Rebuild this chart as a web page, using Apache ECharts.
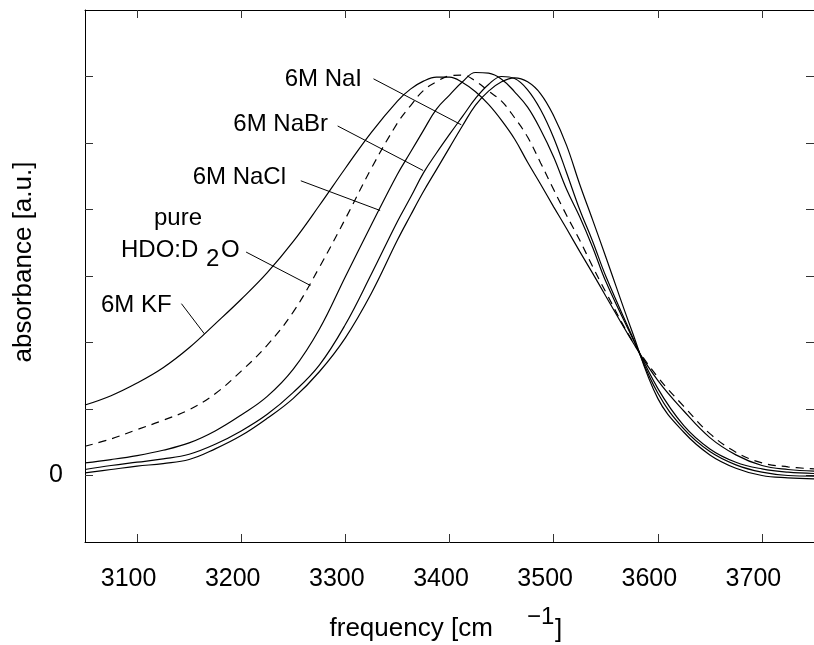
<!DOCTYPE html>
<html>
<head>
<meta charset="utf-8">
<script src="https://cdn.jsdelivr.net/npm/echarts@6/dist/echarts.min.js"></script>
<style>
html,body{margin:0;padding:0;background:#fff;}
#c{width:814px;height:645px;}
</style>
</head>
<body>
<div id="c"></div>
<script>
// ---- data ----
const freq = [3050,3075,3100,3125,3150,3175,3200,3225,3250,3275,3300,3325,3350,
              3362.5,3375,3387.5,3400,3412.5,3425,3437.5,3450,3462.5,3475,3487.5,3500,3512.5,3525,3537.5,
              3550,3575,3600,3625,3650,3675,3700,3725,3750];
const kf   = [1.06,1.20,1.39,1.62,1.92,2.28,2.65,3.05,3.52,4.06,4.62,5.16,5.63,
              5.81,5.93,5.99,5.99,5.91,5.77,5.58,5.34,5.06,4.71,4.38,4.04,3.71,3.37,3.04,
              2.70,2.03,1.43,0.97,0.57,0.31,0.15,0.09,0.065];
const pure = [0.44,0.55,0.69,0.83,0.99,1.23,1.57,1.96,2.46,3.13,3.86,4.62,5.30,
              5.56,5.79,5.92,6.01,6.02,5.93,5.78,5.63,5.38,5.09,4.70,4.30,3.91,3.54,3.14,
              2.76,2.04,1.48,1.04,0.63,0.35,0.19,0.13,0.10];
const nacl = [0.19,0.24,0.30,0.38,0.49,0.67,0.91,1.19,1.60,2.20,2.99,3.77,4.53,
              4.86,5.19,5.51,5.72,5.92,6.06,6.05,5.96,5.77,5.54,5.20,4.79,4.30,3.89,3.43,
              2.92,2.09,1.31,0.75,0.40,0.20,0.10,0.05,0.03];
const nabr = [0.09,0.15,0.20,0.25,0.32,0.47,0.67,0.92,1.25,1.66,2.27,3.03,3.82,
              4.18,4.55,4.85,5.13,5.40,5.67,5.88,6.00,5.97,5.80,5.50,5.08,4.55,4.00,3.52,
              3.00,2.11,1.24,0.70,0.36,0.16,0.05,0.00,-0.01];
const nai  = [0.04,0.09,0.14,0.18,0.24,0.40,0.60,0.86,1.16,1.56,2.07,2.74,3.54,
              3.91,4.27,4.60,4.93,5.26,5.57,5.78,5.92,5.98,5.92,5.74,5.41,4.96,4.38,3.84,
              3.29,2.18,1.16,0.65,0.31,0.11,0.00,-0.035,-0.05];

// leader lines (data coordinates: label end -> curve)
const leadKF   = [[3142.6,2.584],[3164.6,2.131]];
const leadPure = [[3204.7,3.36],[3266.5,2.857]];
const leadNaCl = [[3257.2,4.432],[3333.4,3.985]];
const leadNaBr = [[3292.6,5.256],[3374.7,4.586]];
const leadNaI  = [[3327.0,5.965],[3411.3,5.274]];

const xTickValues = [3100,3200,3300,3400,3500,3600,3700];
const yTickValues = [0,1,2,3,4,5,6];
const yLabelValues = [0];

// ---- chart ----
const FONT = '"Liberation Sans", Arial, Helvetica, sans-serif';
const chart = echarts.init(document.getElementById('c'), null, {renderer:'canvas'});

function pairs(xs, ys){ return xs.map((x,i)=>[x, ys[i]]); }
function leader(seg){
  return {
    silent:true, symbol:['none','none'], animation:false,
    label:{show:false},
    lineStyle:{color:'#000', width:1, type:'solid'},
    emphasis:{disabled:true},
    data:[[{coord:seg[0]},{coord:seg[1]}]]
  };
}
function line(name, ys, dashed, lead){
  return {
    name:name, type:'line', data:pairs(freq, ys), smooth:0.4,
    showSymbol:false, symbol:'none', animation:false, silent:true,
    lineStyle:{color:'#000', width:1.2, type: dashed ? [8,6] : 'solid'},
    emphasis:{disabled:true},
    markLine: leader(lead)
  };
}

const axisCommon = {
  type:'value', min:3050, max:3750,
  axisLine:{show:true, onZero:false, lineStyle:{color:'#000', width:1}},
  splitLine:{show:false}
};
const yCommon = {
  type:'value', min:-1, max:7,
  axisLine:{show:true, onZero:false, lineStyle:{color:'#000', width:1}},
  splitLine:{show:false}
};

chart.setOption({
  backgroundColor:'#fff',
  animation:false,
  grid:{left:85, top:10, width:733, height:532, containLabel:false},
  xAxis:[
    Object.assign({}, axisCommon, {
      position:'bottom',
      axisTick:{show:true, inside:true, length:8, customValues:xTickValues, lineStyle:{color:'#333'}},
      axisLabel:{show:true, customValues:xTickValues, margin:25, color:'#000',
        fontFamily:FONT, fontSize:25, padding:[0,17,0,0],
        formatter:function(v){ return String(v); }}
    }),
    Object.assign({}, axisCommon, {
      position:'top',
      axisTick:{show:true, inside:true, length:8, customValues:xTickValues, lineStyle:{color:'#333'}},
      axisLabel:{show:false}
    })
  ],
  yAxis:[
    Object.assign({}, yCommon, {
      position:'left',
      axisTick:{show:true, inside:true, length:8, customValues:yTickValues, lineStyle:{color:'#333'}},
      axisLabel:{show:true, customValues:yLabelValues, margin:22, color:'#000',
        fontFamily:FONT, fontSize:25, padding:[0,0,5,0],
        formatter:function(v){ return String(v); }}
    }),
    Object.assign({}, yCommon, {
      position:'right',
      axisTick:{show:true, inside:true, length:8, customValues:yTickValues, lineStyle:{color:'#333'}},
      axisLabel:{show:false}
    })
  ],
  series:[
    line('6M KF', kf, false, leadKF),
    line('pure HDO:D2O', pure, true, leadPure),
    line('6M NaCl', nacl, false, leadNaCl),
    line('6M NaBr', nabr, false, leadNaBr),
    line('6M NaI', nai, false, leadNaI)
  ],
  graphic:[
    {type:'text', x:24, y:262, rotation:Math.PI/2, silent:true,
      style:{text:'absorbance [a.u.]', font:'26px '+FONT, fill:'#000',
        align:'center', verticalAlign:'middle', textAlign:'center', textVerticalAlign:'middle'}},
    {type:'text', x:329.5, y:629, silent:true,
      style:{text:'frequency [cm', font:'26px '+FONT, fill:'#000',
        align:'left', verticalAlign:'middle', textAlign:'left', textVerticalAlign:'middle'}},
    {type:'text', x:527, y:617.5, silent:true,
      style:{text:'\u22121', font:'24px '+FONT, fill:'#000',
        align:'left', verticalAlign:'middle', textAlign:'left', textVerticalAlign:'middle'}},
    {type:'text', x:555, y:629.5, silent:true,
      style:{text:']', font:'26px '+FONT, fill:'#000',
        align:'left', verticalAlign:'middle', textAlign:'left', textVerticalAlign:'middle'}},

    {type:'text', x:362, y:79.6, silent:true,
      style:{text:'6M NaI', font:'24px '+FONT, fill:'#000',
        align:'right', verticalAlign:'middle', textAlign:'right', textVerticalAlign:'middle'}},
    {type:'text', x:328, y:124.6, silent:true,
      style:{text:'6M NaBr', font:'24px '+FONT, fill:'#000',
        align:'right', verticalAlign:'middle', textAlign:'right', textVerticalAlign:'middle'}},
    {type:'text', x:286, y:177, silent:true,
      style:{text:'6M NaCl', font:'24px '+FONT, fill:'#000',
        align:'right', verticalAlign:'middle', textAlign:'right', textVerticalAlign:'middle'}},
    {type:'text', x:178, y:218.6, silent:true,
      style:{text:'pure', font:'24px '+FONT, fill:'#000',
        align:'center', verticalAlign:'middle', textAlign:'center', textVerticalAlign:'middle'}},
    {type:'text', x:121, y:250.6, silent:true,
      style:{text:'HDO:D', font:'24px '+FONT, fill:'#000',
        align:'left', verticalAlign:'middle', textAlign:'left', textVerticalAlign:'middle'}},
    {type:'text', x:206, y:259.6, silent:true,
      style:{text:'2', font:'24px '+FONT, fill:'#000',
        align:'left', verticalAlign:'middle', textAlign:'left', textVerticalAlign:'middle'}},
    {type:'text', x:221, y:250.6, silent:true,
      style:{text:'O', font:'24px '+FONT, fill:'#000',
        align:'left', verticalAlign:'middle', textAlign:'left', textVerticalAlign:'middle'}},
    {type:'text', x:101, y:305.6, silent:true,
      style:{text:'6M KF', font:'24px '+FONT, fill:'#000',
        align:'left', verticalAlign:'middle', textAlign:'left', textVerticalAlign:'middle'}}
  ]
});
</script>
</body>
</html>
